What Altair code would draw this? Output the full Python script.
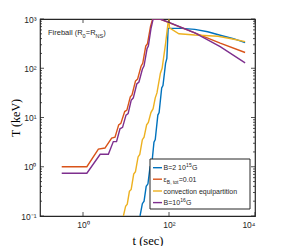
import altair as alt
import pandas as pd

# ---- data ----
blue_t = [21.2, 24.0, 26.3, 29.5, 32.4, 36.3, 39.8, 44.7, 47.9, 55.0, 58.9, 67.6, 72.4, 83.2, 89.1, 95.5, 104.7, 199.5, 398.1, 794.3, 1549.0, 3162.0, 5888.0]
blue_T = [0.10, 0.178, 0.20, 0.40, 0.45, 1.0, 1.12, 3.16, 3.55, 11.2, 12.6, 39.8, 44.7, 126.0, 158.0, 646.0, 646.0, 646.0, 617.0, 550.0, 468.0, 398.0, 331.0]

red_t = [0.32, 1.23, 2.28, 3.24, 4.64, 5.55, 6.76, 7.59, 9.33, 10.5, 12.6, 13.8, 16.6, 18.6, 22.4, 24.5, 28.8, 31.6, 37.2, 41.7, 61.7, 398.1, 1549.0, 5888.0]
red_T = [1.0, 1.0, 2.29, 2.40, 3.80, 3.98, 7.08, 7.59, 13.2, 14.1, 26.3, 28.8, 55.0, 60.3, 110.0, 126.0, 282.0, 316.0, 708.0, 1000.0, 1000.0, 525.0, 324.0, 209.0]

yel_t = [8.7, 9.8, 10.7, 12.0, 13.2, 15.1, 16.6, 19.1, 20.9, 24.0, 26.3, 30.2, 33.1, 38.0, 42.7, 47.9, 52.5, 63.1, 69.2, 83.2, 95.5, 100.0, 102.3, 169.8, 398.1, 1380.0, 2818.0, 5888.0]
yel_T = [0.10, 0.158, 0.174, 0.316, 0.347, 0.708, 0.794, 1.58, 1.78, 3.55, 3.98, 7.08, 7.94, 12.6, 15.1, 25.1, 31.6, 79.4, 100.0, 316.0, 871.0, 1000.0, 661.0, 501.0, 473.0, 447.0, 398.0, 347.0]

pur_t = [0.32, 1.23, 2.51, 3.89, 5.07, 6.03, 7.24, 8.32, 10.0, 11.2, 13.2, 14.8, 17.8, 20.0, 24.0, 26.3, 30.9, 33.1, 38.0, 42.7, 61.7, 100.0, 398.1, 1549.0, 5888.0]
pur_T = [0.74, 0.74, 1.79, 1.79, 3.24, 3.24, 5.89, 6.31, 11.2, 12.0, 22.4, 25.1, 47.9, 52.5, 95.5, 112.0, 251.0, 282.0, 631.0, 1000.0, 1000.0, 851.0, 525.0, 275.0, 129.0]

series_names = ["B=2 10", "ε", "convection equipartition", "B=10"]
series_colors = ["#0072BD", "#D95319", "#EDB120", "#7E2F8E"]

y_ticks_major = [0.1, 1, 10, 100, 1000]
y_ticks_minor = [m * d for d in [0.1, 1, 10, 100] for m in range(2, 10)]
x_ticks_major = [1, 100, 10000]

W, H = 215, 197
AX = "#262626"

xscale = alt.Scale(type="log", domain=[0.1, 10000], nice=False)
yscale = alt.Scale(type="log", domain=[0.1, 1000], nice=False)

xaxis = alt.Axis(values=x_ticks_major, ticks=False, domain=False, grid=False,
                 labelExpr="datum.value==1?'10⁰':datum.value==100?'10²':'10⁴'",
                 labelFont="Liberation Sans", labelFontSize=8.5, labelColor=AX, labelPadding=4,
                 title="t (sec)", titleFont="Liberation Serif", titleFontSize=12.5,
                 titleFontWeight="normal", titleColor="#000", titleY=24, titleBaseline="middle")
yaxis = alt.Axis(values=y_ticks_major, ticks=False, domain=False, grid=False,
                 labelExpr="datum.value==0.1?'10⁻¹':datum.value==1?'10⁰':datum.value==10?'10¹':datum.value==100?'10²':'10³'",
                 labelFont="Liberation Sans", labelFontSize=8.5, labelColor=AX, labelPadding=4,
                 title="T (keV)", titleFont="Liberation Serif", titleFontSize=12,
                 titleFontWeight="normal", titleColor="#000", titleX=-25, titleBaseline="middle")


def line(ts, Ts, color):
    df = pd.DataFrame({"t": ts, "T": Ts, "i": range(len(ts))})
    return alt.Chart(df).mark_line(color=color, strokeWidth=1.4, clip=True).encode(
        x=alt.X("t:Q", scale=xscale, axis=xaxis),
        y=alt.Y("T:Q", scale=yscale, axis=yaxis),
        order="i:Q",
    )


def yticks(vals, length):
    df = pd.DataFrame({"T": vals})
    left = alt.Chart(df).mark_rule(color=AX, strokeWidth=0.8).encode(
        y=alt.Y("T:Q", scale=yscale, axis=yaxis), x=alt.value(0), x2=alt.value(length))
    right = alt.Chart(df).mark_rule(color=AX, strokeWidth=0.8).encode(
        y=alt.Y("T:Q", scale=yscale, axis=yaxis), x=alt.value(W), x2=alt.value(W - length))
    return [left, right]


def xticks(vals, length):
    df = pd.DataFrame({"t": vals})
    bottom = alt.Chart(df).mark_rule(color=AX, strokeWidth=0.8).encode(
        x=alt.X("t:Q", scale=xscale, axis=xaxis), y=alt.value(H), y2=alt.value(H - length))
    top = alt.Chart(df).mark_rule(color=AX, strokeWidth=0.8).encode(
        x=alt.X("t:Q", scale=xscale, axis=xaxis), y=alt.value(0), y2=alt.value(length))
    return [bottom, top]


def txt(s, x, y, size, color="#000", font="Liberation Sans"):
    return alt.Chart(pd.DataFrame({"s": [s]})).mark_text(
        align="left", baseline="alphabetic", font=font, fontSize=size, color=color
    ).encode(text="s:N", x=alt.value(x), y=alt.value(y))


layers = [
    line(blue_t, blue_T, series_colors[0]),
    line(red_t, red_T, series_colors[1]),
    line(yel_t, yel_T, series_colors[2]),
    line(pur_t, pur_T, series_colors[3]),
]
layers += yticks(y_ticks_major, 4)
layers += yticks(y_ticks_minor, 2)
layers += xticks(x_ticks_major, 4)

# annotation: Fireball (R0=RNS)
ax0, ay0 = 8, 16
layers += [
    txt("Fireball (R", ax0, ay0, 7.5, AX),
    txt("0", ax0 + 34.6, ay0 + 2.5, 5.5, AX),
    txt("=R", ax0 + 37.8, ay0, 7.5, AX),
    txt("NS", ax0 + 47.6, ay0 + 2.5, 5.5, AX),
    txt(")", ax0 + 55.3, ay0, 7.5, AX),
]

# legend box
layers.append(
    alt.Chart(pd.DataFrame({"a": [0]})).mark_rect(fill="white", stroke=AX, strokeWidth=1).encode(
        x=alt.value(110), x2=alt.value(210), y=alt.value(140), y2=alt.value(190))
)
ys = [148.7, 160.2, 172.0, 183.6]
for c, yy in zip(series_colors, ys):
    layers.append(
        alt.Chart(pd.DataFrame({"a": [0]})).mark_rule(color=c, strokeWidth=1.4).encode(
            x=alt.value(113), x2=alt.value(122), y=alt.value(yy))
    )
tx = 123.5
fs = 7
layers += [
    txt(series_names[0], tx, ys[0] + 2.5, fs, AX),
    txt("15", tx + 22.6, ys[0] - 0.5, 5, AX),
    txt("G", tx + 28.4, ys[0] + 2.5, fs, AX),
    txt(series_names[1], tx, ys[1] + 2.5, fs, AX),
    txt("B, tot", tx + 3.3, ys[1] + 4.3, 5, AX),
    txt("=0.01", tx + 15.2, ys[1] + 2.5, fs, AX),
    txt(series_names[2], tx, ys[2] + 2.5, fs, AX),
    txt(series_names[3], tx, ys[3] + 2.5, fs, AX),
    txt("16", tx + 16.7, ys[3] - 0.5, 5, AX),
    txt("G", tx + 22.5, ys[3] + 2.5, fs, AX),
]

chart = alt.layer(*layers).properties(
    width=W, height=H,
    padding={"left": 32, "top": 11, "right": 19, "bottom": 30},
    autosize=alt.AutoSizeParams(type="none"),
    background="white",
).configure_view(stroke=AX, strokeWidth=1.2).configure_axis(titleFontWeight="normal")

chart.save("out.html", embed_options={"renderer": "svg", "actions": False})
